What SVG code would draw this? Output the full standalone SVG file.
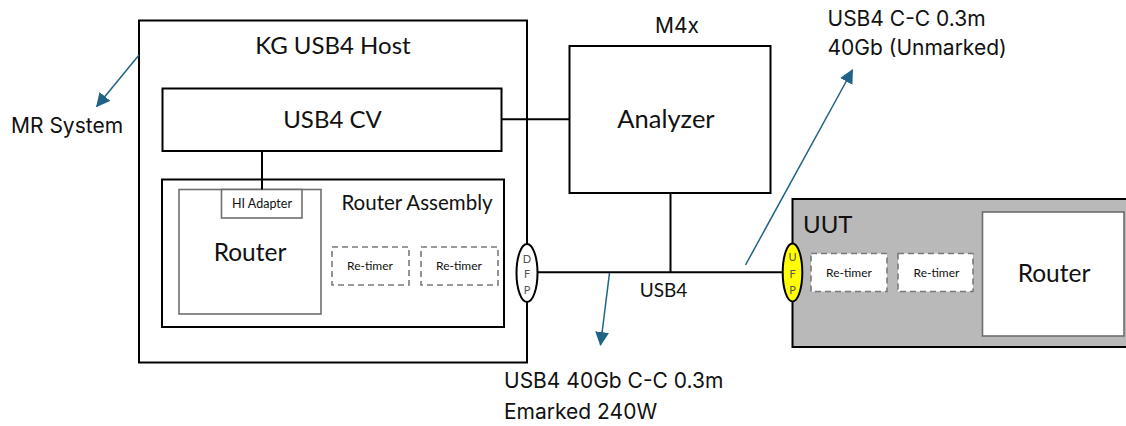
<svg xmlns="http://www.w3.org/2000/svg" width="1126" height="426" viewBox="0 0 1126 426">
<style>
.box{fill:#fff;stroke:#000;stroke-width:2}
.gbox{fill:#fff;stroke:#6e6e6e;stroke-width:1.6}
.rt{fill:#fff;stroke:#7a7a7a;stroke-width:1.6;stroke-dasharray:6 4}
.wire{stroke:#000;stroke-width:2;fill:none}
.ptr{stroke:#1f6386;stroke-width:1.5;fill:none;marker-end:url(#ah)}
.c{font-family:Lato,"Liberation Sans",sans-serif;fill:#111;text-anchor:middle}
.lbl{font-family:Inter,"Liberation Sans",Arial,sans-serif;font-size:21px;fill:#111}
.port{font-family:Lato,"Liberation Sans",sans-serif;font-size:11px;fill:#555;text-anchor:middle}
</style>
<defs>
<marker id="ah" viewBox="0 0 14 14" refX="13" refY="7" markerWidth="14" markerHeight="14" markerUnits="userSpaceOnUse" orient="auto">
<path d="M0,0 L14,7 L0,14 z" fill="#1f6386"/>
</marker>
</defs>

<g id="host">
<rect class="box" x="139" y="20.5" width="388" height="342"/>
<text class="c" x="333" y="54" font-size="24">KG USB4 Host</text>
</g>
<g id="usb4cv">
<rect class="box" x="162.5" y="88.5" width="339" height="62.5"/>
<text class="c" x="332.5" y="128" font-size="24">USB4 CV</text>
</g>
<g id="router-assembly">
<rect class="box" x="162" y="179.5" width="342" height="147.5"/>
<text class="c" x="417" y="210" font-size="20.5">Router Assembly</text>
</g>
<g id="host-router">
<rect class="gbox" x="179" y="189.5" width="142" height="124.5"/>
<text class="c" x="250" y="260.5" font-size="24.5">Router</text>
</g>
<g id="hi-adapter">
<rect class="gbox" x="221.5" y="189.5" width="80.5" height="28.5" stroke="#444"/>
<text class="c" x="262" y="208.3" font-size="12.5">HI Adapter</text>
</g>
<g id="host-retimer1">
<rect class="rt" x="332" y="247" width="77" height="38"/>
<text class="c" x="370" y="270" font-size="12">Re-timer</text>
</g>
<g id="host-retimer2">
<rect class="rt" x="421" y="247" width="77" height="38"/>
<text class="c" x="459" y="270" font-size="12">Re-timer</text>
</g>
<g id="analyzer">
<rect class="box" x="569.5" y="46" width="201" height="147"/>
<text class="c" x="666" y="128" font-size="25.5">Analyzer</text>
<text class="lbl" x="677" y="33" text-anchor="middle">M4x</text>
</g>
<g id="uut">
<rect x="792.5" y="199" width="345" height="148" fill="#b9b9b9" stroke="#000" stroke-width="2"/>
<text x="803" y="233.3" font-family="Lato,'Liberation Sans',sans-serif" font-size="24" fill="#111">UUT</text>
</g>
<g id="uut-router">
<rect class="gbox" x="982.5" y="212" width="141.5" height="124"/>
<text class="c" x="1054" y="281.7" font-size="24.5">Router</text>
</g>
<g id="uut-retimer1">
<rect class="rt" x="811" y="253.5" width="76" height="38"/>
<text class="c" x="849" y="277.3" font-size="12">Re-timer</text>
</g>
<g id="uut-retimer2">
<rect class="rt" x="898" y="253.5" width="75" height="38"/>
<text class="c" x="936.5" y="277.3" font-size="12">Re-timer</text>
</g>

<g id="connectors">
<line class="wire" x1="501.5" y1="119.3" x2="569.5" y2="119.3"/>
<line class="wire" x1="262" y1="151" x2="262" y2="189.5"/>
<line class="wire" x1="670.5" y1="193" x2="670.5" y2="272.3"/>
<line class="wire" x1="537.5" y1="272.3" x2="782.6" y2="272.3"/>
<line class="ptr" x1="139" y1="55" x2="96.7" y2="106.5"/>
<line class="ptr" x1="745.5" y1="265" x2="852.5" y2="70"/>
<line class="ptr" x1="609.5" y1="273" x2="600.5" y2="345"/>
</g>

<g id="dfp">
<ellipse cx="527" cy="273" rx="10.5" ry="29" fill="#fff" stroke="#000" stroke-width="2"/>
<text class="port" x="527" y="263">D</text>
<text class="port" x="527" y="277.5">F</text>
<text class="port" x="527" y="294">P</text>
</g>
<g id="ufp">
<ellipse cx="792.5" cy="272.5" rx="9.8" ry="29" fill="#ffff00" stroke="#000" stroke-width="2"/>
<text class="port" x="792.5" y="261">U</text>
<text class="port" x="792.5" y="277.5">F</text>
<text class="port" x="792.5" y="293.5">P</text>
</g>

<g id="labels">
<text class="lbl" x="11" y="132.7">MR System</text>
<text class="lbl" x="827.5" y="26">USB4 C-C 0.3m</text>
<text class="lbl" x="827.5" y="55">40Gb (Unmarked)</text>
<text class="c" x="663.6" y="297.3" font-size="19">USB4</text>
<text class="lbl" x="504" y="388.3">USB4 40Gb C-C 0.3m</text>
<text class="lbl" x="504" y="419.3">Emarked 240W</text>
</g>
</svg>
